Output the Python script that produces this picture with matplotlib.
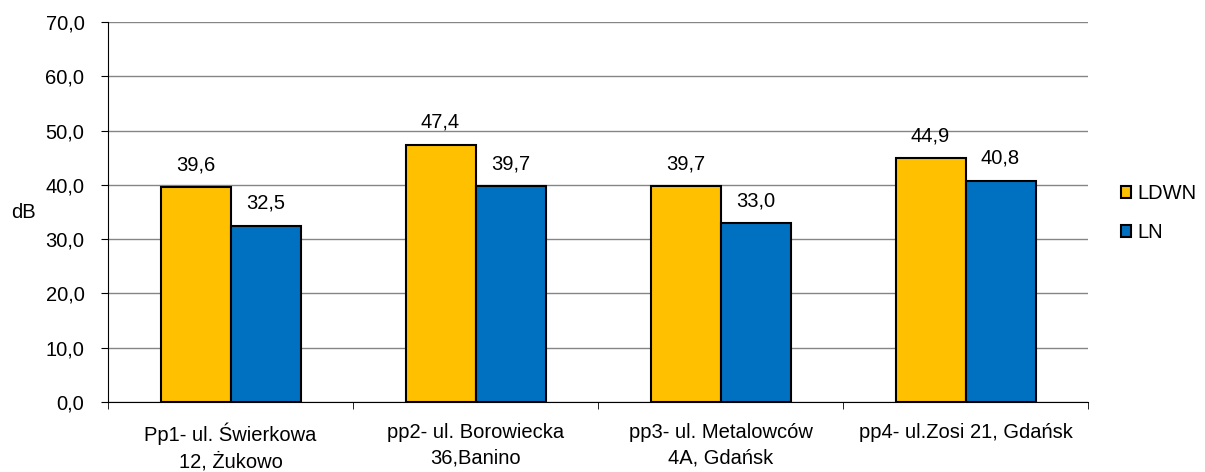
#!/usr/bin/env python3
"""
Noise levels LDWN / LN at four measurement points.
"""

import matplotlib
matplotlib.use('Agg')
import matplotlib.pyplot as plt
import numpy as np

categories = [
    'Pp1- ul. Świerkowa\n12, Żukowo',
    'pp2- ul. Borowiecka\n36,Banino',
    'pp3- ul. Metalowców\n4A, Gdańsk',
    'pp4- ul.Zosi 21, Gdańsk',
]
ldwn = [39.6, 47.4, 39.7, 44.9]
ln = [32.5, 39.7, 33.0, 40.8]
yticks = [0, 10, 20, 30, 40, 50, 60, 70]

FS = 14.5


def fmt(v):
    return f'{v:.1f}'.replace('.', ',')


def main():
    plt.rcParams['font.family'] = ['Liberation Sans', 'DejaVu Sans']
    plt.rcParams['font.size'] = FS

    W, H = 1205, 472
    fig = plt.figure(figsize=(W / 100, H / 100), dpi=100)
    ax = fig.add_axes([108 / W, 1 - 402 / H, 980 / W, 380 / H])

    x = np.arange(len(categories))
    width = 1 / 3.5
    b1 = ax.bar(x - width / 2, ldwn, width, color='#FFC000', edgecolor='black',
                linewidth=1.5, label='LDWN', zorder=3)
    b2 = ax.bar(x + width / 2, ln, width, color='#0070C0', edgecolor='black',
                linewidth=1.5, label='LN', zorder=3)

    for bars, vals in ((b1, ldwn), (b2, ln)):
        for rect, v in zip(bars, vals):
            ax.annotate(fmt(v), (rect.get_x() + rect.get_width() / 2, v),
                        xytext=(0, 16), textcoords='offset points',
                        ha='center', va='center', fontsize=FS)

    ax.set_xlim(-0.5, len(categories) - 0.5)
    ax.set_ylim(0, 70)
    ax.set_yticks(yticks)
    ax.set_yticklabels([fmt(t) for t in yticks])
    ax.yaxis.grid(True, color='#858585', linewidth=1, zorder=0)
    ax.set_axisbelow(True)

    # category labels centred, ticks on category boundaries
    ax.set_xticks(x)
    ax.set_xticklabels(categories, linespacing=1.45)
    ax.tick_params(axis='x', length=0, pad=15)
    ax.set_xticks(np.arange(len(categories) + 1) - 0.5, minor=True)
    ax.tick_params(axis='x', which='minor', length=5, direction='out')
    ax.tick_params(axis='y', length=5, direction='out', pad=12)

    for side in ('top', 'right'):
        ax.spines[side].set_visible(False)

    fig.text(23.5 / W, 1 - 213 / H, 'dB', ha='center', va='center', fontsize=FS)

    ax.legend(loc='center left', bbox_to_anchor=(1121 / W, 1 - 213 / H),
              bbox_transform=fig.transFigure, frameon=False,
              handlelength=0.5, handleheight=0.5, handletextpad=0.3,
              labelspacing=1.0, borderpad=0, borderaxespad=0, fontsize=FS)

    fig.savefig('out.png', dpi=100)
    plt.close(fig)


if __name__ == '__main__':
    main()
